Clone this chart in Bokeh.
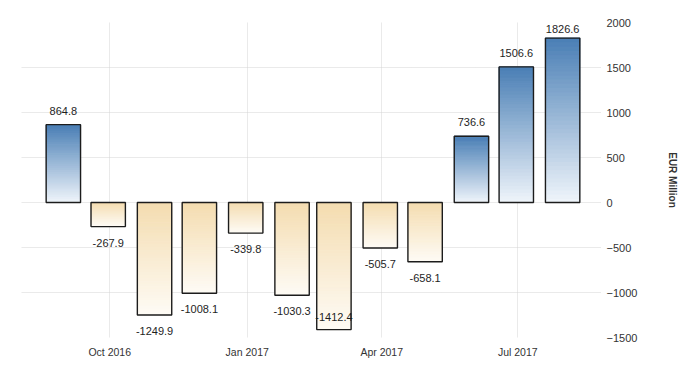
import pandas as pd
from bokeh.plotting import figure
from bokeh.models import Range1d, FixedTicker, DatetimeTickFormatter, ColumnDataSource
from bokeh.core.properties import value
from bokeh.embed import file_html
from bokeh.resources import INLINE

# ---- data ----
months = ["2016-08-31", "2016-09-30", "2016-10-31", "2016-11-30", "2016-12-31",
          "2017-01-31", "2017-02-28", "2017-03-31", "2017-04-30", "2017-05-31",
          "2017-06-30", "2017-07-31"]
balance = [864.8, -267.9, -1249.9, -1008.1, -339.8, -1030.3, -1412.4,
           -505.7, -658.1, 736.6, 1506.6, 1826.6]
x_ticks = ["2016-10-01", "2017-01-01", "2017-04-01", "2017-07-01"]
y_ticks = [-1500, -1000, -500, 0, 500, 1000, 1500, 2000]
unit_label = "EUR Million"

# ---- style ----
Y_MIN, Y_MAX = -1500, 2000
FRAME_W, FRAME_H = 580, 315
FONT = "Liberation Sans"
POS_FAR, POS_NEAR = (74, 127, 181), (240, 245, 251)
NEG_NEAR, NEG_FAR = (244, 220, 175), (254, 251, 245)
BAR_DAYS = 23
N_SLICES = 40

dates = pd.to_datetime(months)
day_ms = 86400000.0
half_w = BAR_DAYS * day_ms / 2

p = figure(x_axis_type="datetime", frame_width=FRAME_W, frame_height=FRAME_H,
           output_backend="svg", toolbar_location=None,
           x_range=Range1d(pd.Timestamp("2016-08-03"), pd.Timestamp("2017-08-26")),
           y_range=Range1d(Y_MIN, Y_MAX),
           min_border_left=21, min_border_top=22, min_border_bottom=5,
           min_border_right=2, y_axis_location="right")
p.outline_line_color = None
p.background_fill_color = "white"


def mix(a, b, t):
    return "#%02x%02x%02x" % tuple(int(round(a[i] + (b[i] - a[i]) * t)) for i in range(3))

# gradient bars built from slices
L, R, T, B, C = [], [], [], [], []
for d, v in zip(dates, balance):
    xm = d.value / 1e6
    for k in range(N_SLICES):
        f0, f1 = k / N_SLICES, (k + 1) / N_SLICES
        y0, y1 = v * f0, v * f1
        t = (k + 0.5) / N_SLICES  # 0 near zero, 1 far end
        col = mix(POS_NEAR, POS_FAR, t) if v >= 0 else mix(NEG_NEAR, NEG_FAR, t)
        L.append(xm - half_w); R.append(xm + half_w)
        T.append(max(y0, y1)); B.append(min(y0, y1)); C.append(col)
p.quad(left=L, right=R, top=T, bottom=B, fill_color=C, line_color=C, line_width=1)

bars = ColumnDataSource(dict(
    left=[d.value / 1e6 - half_w for d in dates],
    right=[d.value / 1e6 + half_w for d in dates],
    top=[max(v, 0) for v in balance], bottom=[min(v, 0) for v in balance]))
p.quad(left="left", right="right", top="top", bottom="bottom", source=bars,
       fill_color=None, line_color="#1c1c1c", line_width=1.4)

# labels
ppu = FRAME_H / (Y_MAX - Y_MIN)
offs = []
for v in balance:
    px = (Y_MAX - v) * ppu
    if v >= 0:
        off = -14
        if px + off < 6:
            off = 6 - px
    else:
        off = 16
        if px + off > FRAME_H - 4:
            off = -13
    offs.append(off)
lab = ColumnDataSource(dict(x=dates, y=balance, t=["%.1f" % v for v in balance], off=offs))
p.text(x="x", y="y", text="t", y_offset="off", source=lab, text_align="center",
       text_baseline="middle", text_font=value(FONT), text_font_size="11px",
       text_color="#1e1e1e")

# axes
p.xaxis.ticker = FixedTicker(ticks=[pd.Timestamp(t).value / 1e6 for t in x_ticks])
fmt = "%b %Y"
p.xaxis.formatter = DatetimeTickFormatter(days=fmt, months=fmt, years=fmt)
p.yaxis.ticker = FixedTicker(ticks=y_ticks)
for ax in (p.xaxis, p.yaxis):
    ax.axis_line_color = None
    ax.major_tick_line_color = None
    ax.minor_tick_line_color = None
    ax.major_tick_out = 0
    ax.major_tick_in = 0
    ax.minor_tick_out = 0
    ax.major_label_text_font = FONT
    ax.major_label_text_font_size = "11px"
    ax.major_label_text_color = "#333333"
p.xaxis.major_label_text_font_size = "10.5px"
p.xaxis.major_label_standoff = 8
p.yaxis.major_label_standoff = 5
p.yaxis.axis_label = unit_label
p.yaxis.axis_label_text_font = FONT
p.yaxis.axis_label_text_font_style = "bold"
p.yaxis.axis_label_text_font_size = "10px"
p.yaxis.axis_label_text_color = "#333333"
p.yaxis.axis_label_standoff = 27

p.xgrid.ticker = p.xaxis.ticker
p.ygrid.ticker = p.yaxis.ticker
for g in (p.xgrid, p.ygrid):
    g.grid_line_color = "#d4d4d4"
    g.grid_line_dash = "1 1"
    g.grid_line_width = 1

open("out.html", "w").write(file_html(p, INLINE))
